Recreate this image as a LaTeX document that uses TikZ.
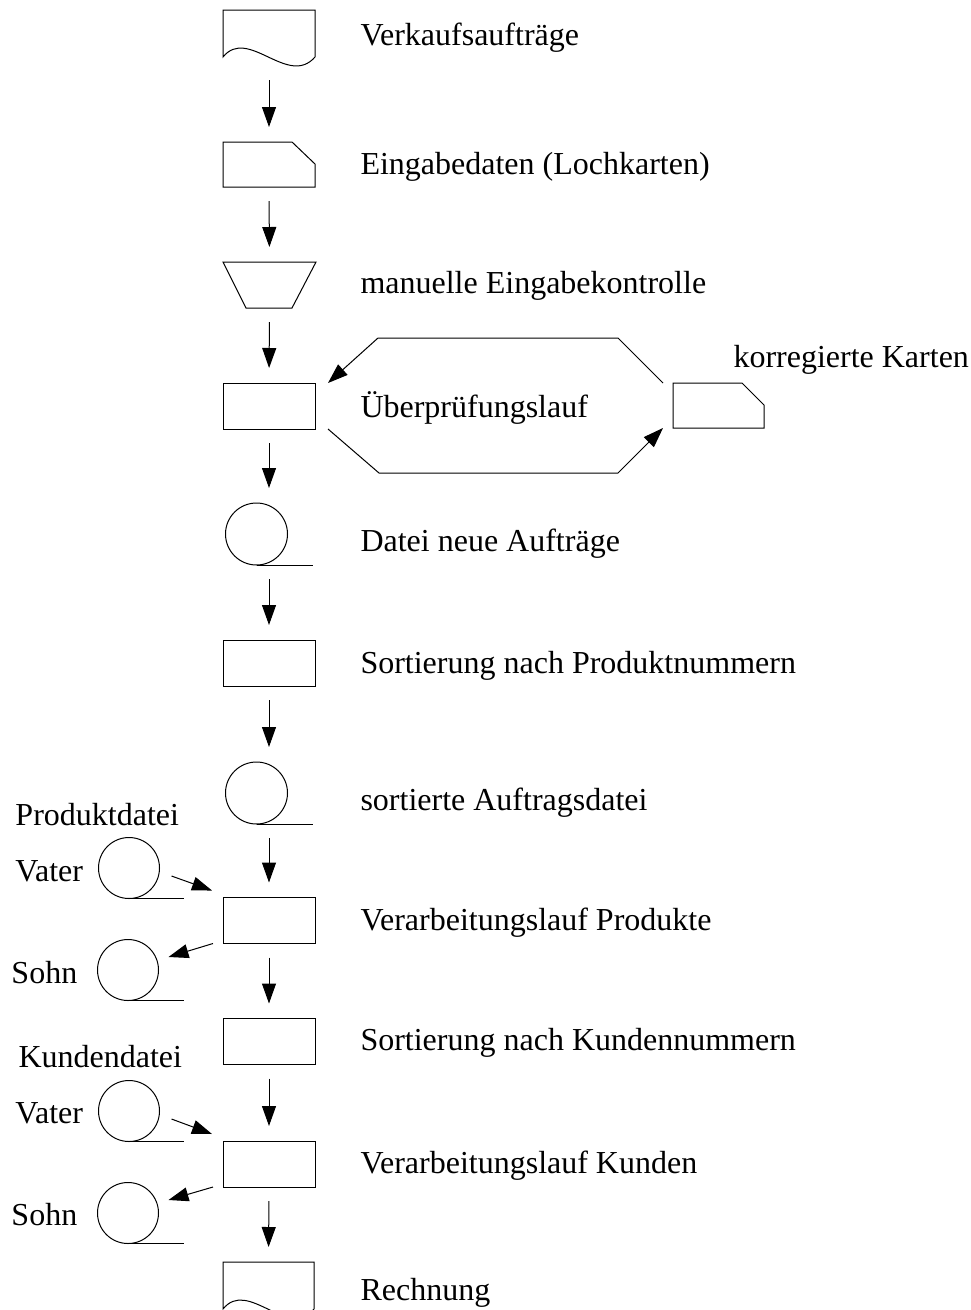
\documentclass[tikz,border=0pt]{standalone}
\usepackage{fontspec}
\setmainfont{Liberation Serif}
\usetikzlibrary{arrows.meta}
\begin{document}
\begin{tikzpicture}[x=1pt,y=-1pt,
  line width=1pt,
  symbox/.style={minimum width=92pt, minimum height=46pt, inner sep=0pt, outer sep=0pt},
  procbox/.style={symbox, draw},
  tapebox/.style={minimum width=87pt, minimum height=62pt, inner sep=0pt, outer sep=0pt},
  reel/.style={circle, draw, minimum size=61pt, inner sep=0pt, outer sep=0pt},
  flow/.style={-{Triangle[length=20pt,width=14pt]}},
  down/.style={flow, shorten <=14pt, shorten >=15pt},
  lbl/.style={anchor=base west, inner sep=0pt, font=\fontsize{32}{38}\selectfont}
]
\useasboundingbox (0,0) rectangle (971,1310);
\clip (0,0) rectangle (971,1310);

% main column of symbols
\node[symbox, minimum height=47pt] (auftr) at (269,33.5) {};
\draw (auftr.north west) -- (auftr.north east) -- (auftr.south east)
  .. controls +(-27,31) and +(25,-31) .. (auftr.south west) -- cycle;

\node[symbox, minimum height=45pt] (karten) at (269,164.5) {};
\draw (karten.north west) -- ([xshift=-23pt]karten.north east)
  -- ([yshift=-22pt]karten.north east) -- (karten.south east)
  -- (karten.south west) -- cycle;

\node[symbox, minimum width=93pt] (kontr) at (269.5,285) {};
\draw (kontr.north west) -- (kontr.north east) -- ([xshift=-24pt]kontr.south east)
  -- ([xshift=23pt]kontr.south west) -- cycle;

\node[procbox] (pruef) at (269,406) {};

\node[symbox, minimum width=91pt, minimum height=45pt] (korr) at (718.5,405.5) {};
\draw (korr.north west) -- ([xshift=-22pt]korr.north east)
  -- ([yshift=-22pt]korr.north east) -- (korr.south east)
  -- (korr.south west) -- cycle;

\node[tapebox] (neu) at (269,534) {};
\draw ([xshift=31pt]neu.west) circle[radius=31pt];
\draw ([xshift=31pt]neu.south west) -- (neu.south east);

\node[procbox] (sortp) at (269,663) {};

\node[tapebox] (sortd) at (269,793) {};
\draw ([xshift=31pt]sortd.west) circle[radius=31pt];
\draw ([xshift=31pt]sortd.south west) -- (sortd.south east);

\node[procbox] (vp) at (269,920.5) {};
\node[procbox] (sortk) at (269,1041.5) {};
\node[procbox] (vk) at (269,1164) {};

\node[symbox, minimum width=91pt, minimum height=47pt] (rechn) at (268.5,1285.5) {};
\draw (rechn.north west) -- (rechn.north east) -- (rechn.south east)
  .. controls +(-27,31) and +(25,-31) .. (rechn.south west) -- cycle;

% father and son files
\node[reel] (pvater) at (129,868) {};
\draw (pvater.south) -- ++(55,0);
\node[reel] (psohn) at (128,970) {};
\draw (psohn.south) -- ++(56,0);
\node[reel] (kvater) at (129,1111) {};
\draw (kvater.south) -- ++(55,0);
\node[reel] (ksohn) at (128,1213) {};
\draw (ksohn.south) -- ++(56,0);

% flow along the main column
\draw[down, shorten <=23pt] (auftr.south) -- (karten.north);
\draw[down] (karten.south) -- (kontr.north);
\draw[down] (kontr.south) -- (pruef.north);
\draw[down] (pruef.south) -- (neu.north);
\draw[down] (neu.south) -- (sortp.north);
\draw[down] (sortp.south) -- (sortd.north);
\draw[down] (sortd.south) -- (vp.north);
\draw[down] (vp.south) -- (sortk.north);
\draw[down] (sortk.south) -- (vk.north);
\draw[down] (vk.south) -- (rechn.north);

% correction loop
\draw[flow] ([xshift=-10pt]korr.north west) -- ++(-45,-45) -- ++(-240,0)
  -- ([xshift=13pt]pruef.north east);
\draw[flow] ([xshift=13pt]pruef.south east) -- ++(51,44) -- ++(239,0)
  -- ([xshift=-10pt]korr.south west);

% file updates
\draw[flow] ([xshift=12pt,yshift=-8pt]pvater.east) -- ([xshift=-11pt,yshift=7pt]vp.north west);
\draw[flow] ([xshift=-10pt]vp.south west) -- ([xshift=10pt,yshift=13pt]psohn.east);
\draw[flow] ([xshift=12pt,yshift=-8pt]kvater.east) -- ([xshift=-11pt,yshift=7pt]vk.north west);
\draw[flow] ([xshift=-10pt]vk.south west) -- ([xshift=10pt,yshift=13pt]ksohn.east);

% labels
\node[lbl] (l1) at (360,45) {Verkaufsaufträge};
\node[lbl] (l2) at (360,174) {Eingabedaten (Lochkarten)};
\node[lbl] (l3) at (360,293) {manuelle Eingabekontrolle};
\node[lbl] (l4) at (360,417) {Überprüfungslauf};
\node[lbl] (l5) at (733,367) {korregierte Karten};
\node[lbl] (l6) at (360,551) {Datei neue Aufträge};
\node[lbl] (l7) at (360,673) {Sortierung nach Produktnummern};
\node[lbl] (l8) at (360,810) {sortierte Auftragsdatei};
\node[lbl] (l9) at (360,930) {Verarbeitungslauf Produkte};
\node[lbl] (l10) at (360,1050) {Sortierung nach Kundennummern};
\node[lbl] (l11) at (360,1173) {Verarbeitungslauf Kunden};
\node[lbl] (l12) at (360,1300) {Rechnung};
\node[lbl] (l13) at (15,825) {Produktdatei};
\node[lbl] (l14) at (15,881) {Vater};
\node[lbl] (l15) at (11,983) {Sohn};
\node[lbl] (l16) at (18,1067) {Kundendatei};
\node[lbl] (l17) at (15,1123) {Vater};
\node[lbl] (l18) at (11,1225) {Sohn};
\end{tikzpicture}
\end{document}
